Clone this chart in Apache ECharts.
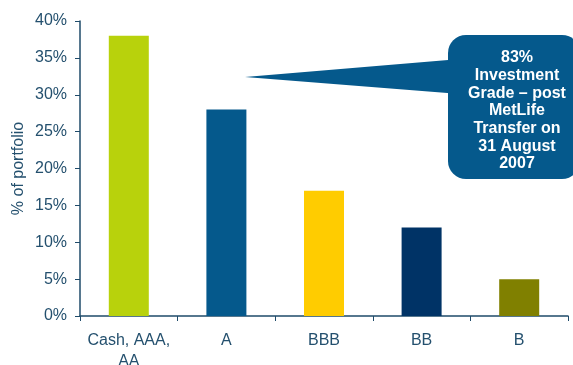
<!DOCTYPE html>
<html>
<head>
<meta charset="utf-8">
<script src="https://cdn.jsdelivr.net/npm/echarts@6/dist/echarts.min.js"></script>
<style>
  html, body { margin: 0; padding: 0; background: #fff; }
  #main { width: 573px; height: 365px; }
</style>
</head>
<body>
<div id="main"></div>
<script>
var categories = ['Cash, AAA,\nAA', 'A', 'BBB', 'BB', 'B'];
var shares = [38, 28, 17, 12, 5];
var barColors = ['#b8d20c', '#05598c', '#ffcc00', '#003366', '#808000'];
var calloutLines = ['83%', 'Investment', 'Grade \u2013 post', 'MetLife', 'Transfer on', '31 August', '2007'];

var axisColor = '#1f4b6a';
var textColor = '#24506e';

var myChart = echarts.init(document.getElementById('main'));

var option = {
    animation: false,
    grid: { left: 80, top: 21, right: 5, bottom: 49, outerBoundsMode: 'none', containLabel: false },
    xAxis: {
        type: 'category',
        data: categories,
        axisLine: { lineStyle: { color: axisColor, width: 1.5 } },
        axisTick: { show: true, length: 5, lineStyle: { color: axisColor } },
        axisLabel: {
            color: textColor, fontFamily: 'Liberation Sans', fontSize: 16,
            margin: 14, lineHeight: 21, interval: 0
        }
    },
    yAxis: {
        type: 'value',
        min: 0, max: 40, interval: 5,
        name: '% of portfolio',
        nameLocation: 'middle',
        nameGap: 53,
        nameMoveOverlap: false,
        nameTextStyle: { color: textColor, fontFamily: 'Liberation Sans', fontSize: 16 },
        axisLine: { show: true, lineStyle: { color: axisColor, width: 1.5 } },
        axisTick: { show: true, length: 5, lineStyle: { color: axisColor } },
        splitLine: { show: false },
        axisLabel: {
            color: textColor, fontFamily: 'Liberation Sans', fontSize: 16,
            margin: 13, formatter: '{value}%'
        }
    },
    series: [{
        type: 'bar',
        barWidth: 40,
        data: shares.map(function (v, i) {
            return { value: v, itemStyle: { color: barColors[i] } };
        })
    }],
    graphic: [
        {
            type: 'polygon',
            shape: { points: [[245, 77], [460, 59], [460, 94]] },
            style: { fill: '#05598c' }
        },
        {
            type: 'rect',
            shape: { x: 448, y: 35, width: 132, height: 144, r: 18 },
            style: { fill: '#05598c' }
        },
        {
            type: 'text',
            x: 517, y: 49,
            style: {
                text: calloutLines.join('\n'),
                fill: '#ffffff',
                font: 'bold 16px "Liberation Sans"',
                lineHeight: 17.7,
                align: 'center',
                verticalAlign: 'top'
            }
        }
    ]
};

myChart.setOption(option);
</script>
</body>
</html>
